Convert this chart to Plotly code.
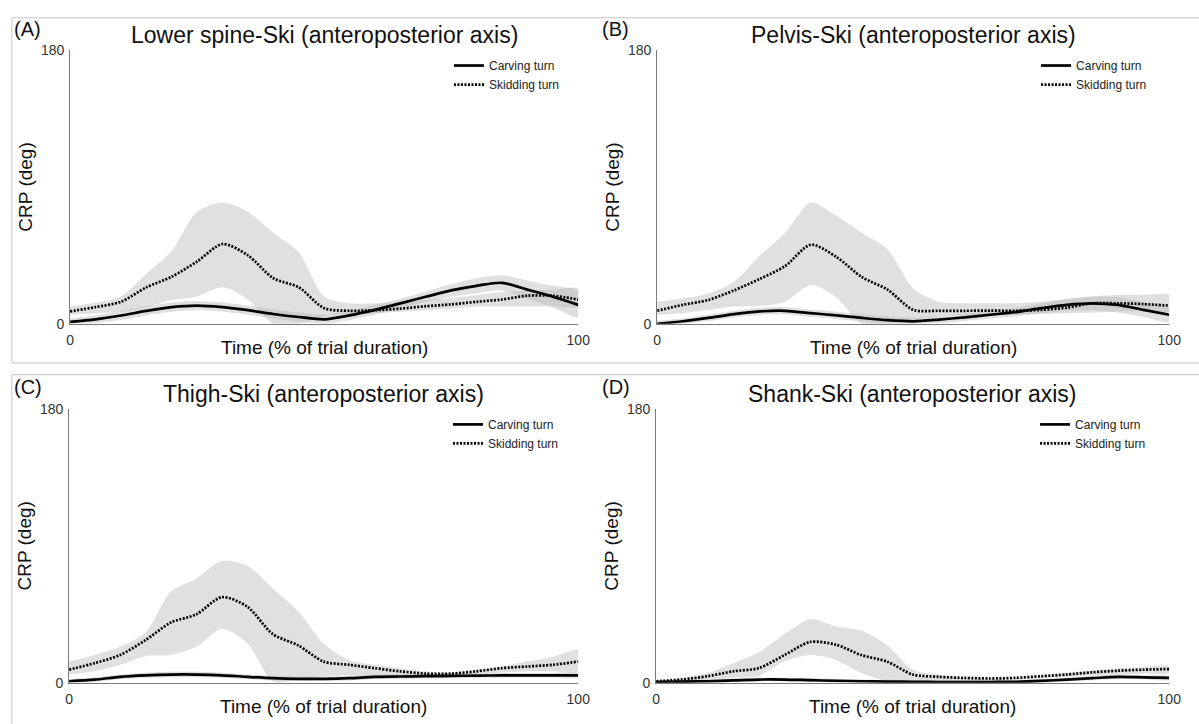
import plotly.graph_objects as go

# ---------------- data ----------------
TIME = [0, 5, 10, 15, 20, 25, 30, 35, 40, 45, 50, 55, 60, 65, 70, 75, 80, 85, 90, 95, 100]

PANEL_LABELS = ["(A)", "(B)", "(C)", "(D)"]
PANEL_TITLES = [
    "Lower spine-Ski (anteroposterior axis)",
    "Pelvis-Ski (anteroposterior axis)",
    "Thigh-Ski (anteroposterior axis)",
    "Shank-Ski (anteroposterior axis)",
]
SERIES_NAMES = ["Carving turn", "Skidding turn"]
X_TICKS = [0, 100]
Y_TICKS = [0, 180]
X_TITLE = "Time (% of trial duration)"
Y_TITLE = "CRP (deg)"

# Panel A - Lower spine-Ski
A_carv_mean = [1.3, 3, 5.5, 8.5, 11, 12, 11, 9, 6.5, 4.5, 3, 5.6, 9.2, 13.5, 17.8, 22, 25, 27, 22.5, 17.8, 12.5]
A_carv_up = [3.5, 5.5, 8.5, 11.5, 14, 15, 14, 12, 9.5, 7.5, 6, 8.6, 12.2, 16.5, 21.3, 26, 30, 32, 28.5, 25, 21.5]
A_carv_lo = [0, 0.5, 2.5, 5.5, 8, 9, 8, 6, 3.5, 1.5, 0, 2.6, 6.2, 10.5, 14.3, 18, 20, 22, 16.5, 10.8, 4.5]
A_skid_mean = [8.2, 11, 14.5, 24, 31, 41, 52.5, 45, 30, 24, 10.3, 8.6, 9, 10, 11.6, 12.8, 14.5, 16, 18.5, 18.5, 16]
A_skid_up = [11.4, 14, 18, 33, 48, 73.7, 79.7, 73.7, 59.7, 47, 18, 13.5, 13.5, 14.5, 15.7, 17, 19, 21, 22, 22.5, 23]
A_skid_lo = [6, 7, 8, 11, 15.7, 18, 24, 16, 0, 0, 5, 6.5, 7, 8, 9, 10, 11.4, 11.5, 11.5, 11.4, 11.4]

# Panel B - Pelvis-Ski
B_carv_mean = [0, 1.7, 3.9, 6.4, 8.2, 8.6, 7, 5.6, 3.9, 2.4, 1.7, 2.8, 4.3, 6, 7.7, 10.3, 12.5, 13.5, 12.5, 9.2, 6]
B_carv_up = [2, 3.7, 6, 8.6, 10.6, 11, 9.4, 8, 6.3, 4.8, 4.1, 5.2, 6.7, 8.5, 10.5, 13.5, 16.5, 18, 17.5, 14, 10.5]
B_carv_lo = [0, 0, 1.8, 4.2, 5.8, 6.2, 4.6, 3.2, 1.5, 0, 0, 0.4, 1.9, 3.5, 5, 7, 8.5, 9, 7.5, 4.5, 1.5]
B_skid_mean = [8.6, 12.5, 15.7, 22, 29.5, 38, 52, 44, 30.7, 22.5, 9.2, 8.6, 8.6, 8.7, 8.6, 9.2, 10.7, 13.5, 13.5, 13, 12]
B_skid_up = [14.6, 16.7, 20, 27.5, 44.7, 59.7, 79.7, 71, 59.7, 49, 23.2, 14.6, 13.5, 13.5, 13.5, 14.5, 16, 18, 19, 19, 19]
B_skid_lo = [6, 7, 9.2, 11.4, 11.8, 14.6, 25.5, 17.4, 0, 0, 2.8, 5, 6, 6, 6, 6.5, 7, 7.5, 8.2, 8.2, 8.2]

# Panel C - Thigh-Ski
C_carv_mean = [1, 2, 3.9, 4.9, 5.4, 5.4, 4.9, 3.9, 3, 2.6, 2.6, 3, 3.9, 4.1, 4.3, 4.5, 4.7, 4.8, 4.9, 4.9, 4.9]
C_carv_up = [2.5, 3.5, 5.4, 6.6, 7.2, 7.2, 6.6, 5.4, 4.5, 4.1, 4.1, 4.5, 5.4, 5.6, 5.8, 6, 6.2, 6.3, 6.4, 6.4, 6.4]
C_carv_lo = [0, 0.5, 2.4, 3.2, 3.6, 3.6, 3.2, 2.4, 1.5, 1.1, 1.1, 1.5, 2.4, 2.6, 2.8, 3, 3.2, 3.3, 3.4, 3.4, 3.4]
C_skid_mean = [8.6, 12.9, 18.2, 28, 39.6, 45, 56.3, 50, 32, 24.6, 13.9, 11.8, 9.6, 7.5, 6, 6, 7.5, 9.6, 10.7, 11.8, 13.9]
C_skid_up = [13.9, 18.2, 23.6, 33, 60, 68.6, 80, 77, 62, 47, 25.7, 15, 11.8, 9.6, 7.5, 6.4, 8.6, 10.7, 13.9, 17, 21.4]
C_skid_lo = [5.4, 7.5, 11.8, 17.5, 18.2, 23.6, 35.5, 26, 1, 2, 4.3, 4.7, 4.7, 4.7, 4.7, 5, 6, 6.5, 7.5, 7.5, 7.5]

# Panel D - Shank-Ski
D_carv_mean = [0.4, 0.7, 1, 1.5, 2.1, 2.1, 1.7, 1.3, 1, 0.8, 0.6, 0.5, 0.4, 0.5, 0.6, 1.2, 2.1, 3, 3.9, 3.6, 3.2]
D_carv_up = [1.6, 1.9, 2.2, 2.7, 3.3, 3.3, 2.9, 2.5, 2.2, 2, 1.8, 1.7, 1.6, 1.7, 1.8, 2.4, 3.3, 4.3, 5.2, 4.9, 4.5]
D_carv_lo = [0, 0, 0, 0.3, 0.9, 0.9, 0.5, 0.1, 0, 0, 0, 0, 0, 0, 0, 0, 0.9, 1.7, 2.6, 2.3, 1.9]
D_skid_mean = [1, 2.1, 4.3, 7.5, 9.6, 18.2, 26.8, 25, 18.2, 13.9, 5.4, 3.9, 3.2, 2.8, 3.2, 4.3, 5.4, 6.9, 7.9, 8.6, 9]
D_skid_up = [1, 3.2, 6.4, 12.9, 20, 32, 41.8, 37, 34.3, 24.6, 8.6, 5.4, 3.2, 3, 3.2, 4.5, 6.4, 8, 9.6, 10.2, 10.7]
D_skid_lo = [0, 1, 2.1, 3.2, 4.5, 13.9, 18.2, 15, 6.4, 1, 1, 1, 1, 1.5, 2.1, 3, 3.9, 4.7, 5.4, 6, 6.4]

PANELS = [
    (A_carv_mean, A_carv_up, A_carv_lo, A_skid_mean, A_skid_up, A_skid_lo),
    (B_carv_mean, B_carv_up, B_carv_lo, B_skid_mean, B_skid_up, B_skid_lo),
    (C_carv_mean, C_carv_up, C_carv_lo, C_skid_mean, C_skid_up, C_skid_lo),
    (D_carv_mean, D_carv_up, D_carv_lo, D_skid_mean, D_skid_up, D_skid_lo),
]

# ---------------- layout geometry (pixels) ----------------
W, H = 1199, 724
def PX(x):
    return x / W
def PY(y):
    return 1 - y / H

# axes boxes: (left, right, top, bottom) in pixels
BOXES = [
    (67, 582, 43, 323),
    (662, 1181, 43, 323),
    (66, 582, 410, 690),
    (661, 1181, 410, 690),
]
LABEL_X = [8, 604, 8, 604]

FONT = "Liberation Sans, Arial, Helvetica, sans-serif"
BAND = "rgba(180,180,180,0.42)"
AXC = "#7a7a7a"

fig = go.Figure()
annotations = []
layout = dict(
    width=W, height=H,
    margin=dict(l=0, r=0, t=0, b=0),
    paper_bgcolor="white", plot_bgcolor="white",
    font=dict(family=FONT, color="#222"),
    showlegend=True,
)

for i, (cm, cu, cl, sm, su, sl) in enumerate(PANELS):
    n = "" if i == 0 else str(i + 1)
    xa, ya = "x" + n, "y" + n
    leg = "legend" + n
    L, R, T, B = BOXES[i]

    # bands
    for up, lo in ((su, sl), (cu, cl)):
        fig.add_trace(go.Scatter(
            x=TIME + TIME[::-1], y=up + lo[::-1],
            xaxis=xa, yaxis=ya, fill="toself", fillcolor=BAND,
            mode="lines", line=dict(width=0, shape="spline", smoothing=0.8),
            hoverinfo="skip", showlegend=False))
    # mean lines
    fig.add_trace(go.Scatter(
        x=TIME, y=cm, xaxis=xa, yaxis=ya, mode="lines", name=SERIES_NAMES[0],
        line=dict(color="black", width=2.7, shape="spline", smoothing=0.8),
        legend=leg))
    fig.add_trace(go.Scatter(
        x=TIME, y=sm, xaxis=xa, yaxis=ya, mode="lines", name=SERIES_NAMES[1],
        line=dict(color="black", width=2.7, dash="2px,1.5px", shape="spline", smoothing=0.8),
        legend=leg))

    axis_common = dict(
        showline=True, linecolor=AXC, linewidth=1, mirror=False,
        ticks="inside", ticklen=4, tickcolor=AXC, tickwidth=1,
        showgrid=False, zeroline=False,
        tickfont=dict(size=14, color="#333", family=FONT),
    )
    layout["xaxis" + n] = dict(
        axis_common, domain=[PX(L), PX(R)], range=[0, 100],
        tickvals=X_TICKS, anchor=ya, ticklabelstandoff=3)
    layout["yaxis" + n] = dict(
        axis_common, domain=[PY(B), PY(T)], range=[0, 180],
        tickvals=Y_TICKS, anchor=xa, ticklabelstandoff=2)

    layout[leg] = dict(
        x=PX(L + 384), y=PY(T + 1), xanchor="left", yanchor="top",
        bgcolor="rgba(0,0,0,0)", borderwidth=0,
        font=dict(size=12, color="#222", family=FONT),
        tracegroupgap=0,
    )

    cx = (L + R) / 2
    annotations += [
        dict(text=PANEL_TITLES[i], x=PX(cx), y=PY(T - 15), xref="paper", yref="paper",
             xanchor="center", yanchor="middle", showarrow=False,
             font=dict(size=23, color="#111", family=FONT)),
        dict(text=PANEL_LABELS[i], x=PX(LABEL_X[i]), y=PY(T - 22), xref="paper", yref="paper",
             xanchor="left", yanchor="middle", showarrow=False,
             font=dict(size=20, color="#111", family=FONT)),
        dict(text=X_TITLE, x=PX(cx), y=PY(B + 24), xref="paper", yref="paper",
             xanchor="center", yanchor="middle", showarrow=False,
             font=dict(size=19, color="#111", family=FONT)),
        dict(text=Y_TITLE, x=PX(L - 45), y=PY((T + B) / 2), xref="paper", yref="paper",
             xanchor="center", yanchor="middle", showarrow=False, textangle=-90,
             font=dict(size=19, color="#111", family=FONT)),
    ]

layout["annotations"] = annotations
layout["shapes"] = [
    dict(type="rect", xref="paper", yref="paper", x0=PX(8), x1=1.02, y0=PY(363), y1=PY(10),
         line=dict(color="#c4c4c4", width=1), fillcolor="rgba(0,0,0,0)", layer="below"),
    dict(type="rect", xref="paper", yref="paper", x0=PX(8), x1=1.02, y0=-0.02, y1=PY(375),
         line=dict(color="#c4c4c4", width=1), fillcolor="rgba(0,0,0,0)", layer="below"),
]

fig.update_layout(**layout)

POST = (
    "document.documentElement.style.margin='0';"
    "document.body.style.margin='0';"
    "document.body.style.overflow='hidden';"
    "var gd=document.getElementById('{plot_id}');"
    "var w=window.innerWidth, h=window.innerHeight;"
    "if(w>0 && h>0 && (w!==gd.layout.width || h!==gd.layout.height)){"
    "Plotly.relayout(gd,{width:w,height:h});}"
)
fig.write_html("out.html", config={"displayModeBar": False}, post_script=POST)
